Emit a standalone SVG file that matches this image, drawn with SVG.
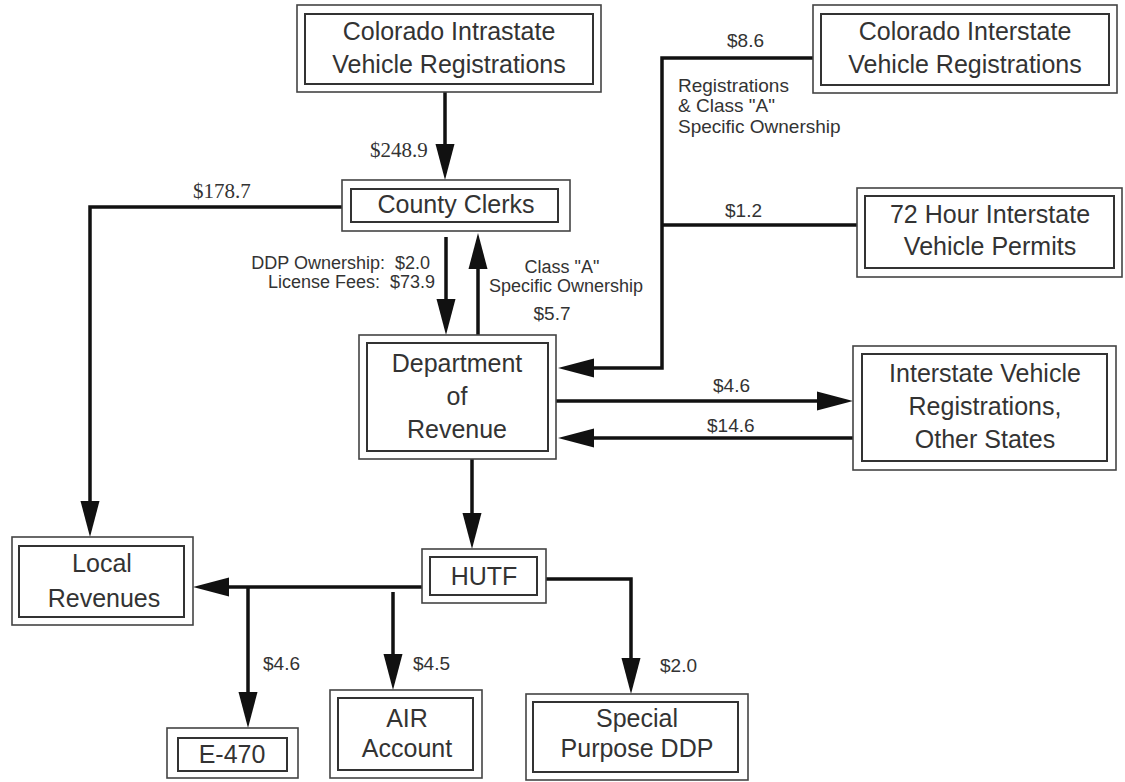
<svg xmlns="http://www.w3.org/2000/svg" width="1125" height="782" viewBox="0 0 1125 782">
<defs>
<style>
.o{fill:#fff;stroke:#444;stroke-width:1.6}
.i{fill:none;stroke:#333;stroke-width:2}
.t{font-family:"Liberation Sans",Arial,sans-serif;font-size:25px;fill:#333;text-anchor:middle}
.l{font-family:"Liberation Sans",Arial,sans-serif;font-size:19px;fill:#333}
.m{font-family:"Liberation Sans",Arial,sans-serif;font-size:18px;fill:#333;white-space:pre}
.s{font-family:"Liberation Serif","Times New Roman",serif;font-size:21px;fill:#333}
.c{fill:none;stroke:#111;stroke-width:3.5;marker-end:url(#ah)}
.n{fill:none;stroke:#111;stroke-width:3.5}
</style>
<marker id="ah" markerUnits="userSpaceOnUse" markerWidth="38" markerHeight="22" refX="26" refY="10" orient="auto" overflow="visible">
<path d="M0,0.5 L36,10 L0,19.5 z" fill="#111"/>
</marker>
</defs>
<rect width="1125" height="782" fill="#fff"/>

<g id="connectors">
<path class="c" d="M445,92 V170"/>
<path class="c" d="M342,207 H90 V527"/>
<path class="c" d="M446,237 V325"/>
<path class="c" d="M478,335 V243"/>
<path class="c" d="M813,58 H662 V368 H568"/>
<path class="n" d="M857,225 H662"/>
<path class="c" d="M556,401 H843"/>
<path class="c" d="M853,438 H568"/>
<path class="c" d="M472,459 V539"/>
<path class="c" d="M422,587 H203"/>
<path class="c" d="M248,587 V718"/>
<path class="c" d="M393,592 V680"/>
<path class="c" d="M546,579 H631 V684"/>
</g>

<g id="labels">
<text class="s" x="370" y="157">$248.9</text>
<text class="s" x="193" y="198">$178.7</text>
<text class="m" x="430" y="269" text-anchor="end" xml:space="preserve">DDP Ownership:  $2.0</text>
<text class="m" x="435" y="288" text-anchor="end" xml:space="preserve">License Fees:  $73.9</text>
<text class="m" x="562" y="273" text-anchor="middle">Class "A"</text>
<text class="m" x="566" y="292" text-anchor="middle">Specific Ownership</text>
<text class="l" x="552" y="320" text-anchor="middle">$5.7</text>
<text class="l" x="727" y="47">$8.6</text>
<text class="l" x="678" y="92">Registrations</text>
<text class="l" x="678" y="112">&amp; Class "A"</text>
<text class="l" x="678" y="133">Specific Ownership</text>
<text class="l" x="725" y="217">$1.2</text>
<text class="l" x="713" y="392">$4.6</text>
<text class="l" x="707" y="432">$14.6</text>
<text class="l" x="263" y="670">$4.6</text>
<text class="l" x="413" y="670">$4.5</text>
<text class="l" x="660" y="672">$2.0</text>
</g>

<g id="intrastate">
<rect class="o" x="297" y="5" width="304" height="87"/>
<rect class="i" x="305" y="14" width="288" height="70"/>
<text class="t" x="449" y="40">Colorado Intrastate</text>
<text class="t" x="449" y="73">Vehicle Registrations</text>
</g>

<g id="interstate">
<rect class="o" x="813" y="5" width="304" height="88"/>
<rect class="i" x="821" y="14" width="288" height="71"/>
<text class="t" x="965" y="40">Colorado Interstate</text>
<text class="t" x="965" y="73">Vehicle Registrations</text>
</g>

<g id="county-clerks">
<rect class="o" x="342" y="180" width="228" height="51"/>
<rect class="i" x="351" y="189" width="207" height="33"/>
<text class="t" x="456" y="213">County Clerks</text>
</g>

<g id="permits72">
<rect class="o" x="857" y="188" width="265" height="89"/>
<rect class="i" x="865" y="196" width="249" height="72"/>
<text class="t" x="990" y="223">72 Hour Interstate</text>
<text class="t" x="990" y="255">Vehicle Permits</text>
</g>

<g id="dept-revenue">
<rect class="o" x="359" y="335" width="197" height="124"/>
<rect class="i" x="367" y="343" width="181" height="108"/>
<text class="t" x="457" y="372">Department</text>
<text class="t" x="457" y="405">of</text>
<text class="t" x="457" y="438">Revenue</text>
</g>

<g id="interstate-other">
<rect class="o" x="853" y="346" width="263" height="124"/>
<rect class="i" x="862" y="354" width="245" height="107"/>
<text class="t" x="985" y="382">Interstate Vehicle</text>
<text class="t" x="985" y="415">Registrations,</text>
<text class="t" x="985" y="448">Other States</text>
</g>

<g id="local-revenues">
<rect class="o" x="12" y="537" width="181" height="88"/>
<rect class="i" x="19" y="546" width="165" height="71"/>
<text class="t" x="102" y="572">Local</text>
<text class="t" x="104" y="607">Revenues</text>
</g>

<g id="hutf">
<rect class="o" x="422" y="549" width="124" height="54"/>
<rect class="i" x="430" y="557" width="107" height="38"/>
<text class="t" x="484" y="585">HUTF</text>
</g>

<g id="e470">
<rect class="o" x="167" y="728" width="131" height="50"/>
<rect class="i" x="178" y="738" width="109" height="33"/>
<text class="t" x="232" y="763">E-470</text>
</g>

<g id="air-account">
<rect class="o" x="330" y="690" width="152" height="88"/>
<rect class="i" x="338" y="698" width="135" height="72"/>
<text class="t" x="407" y="727">AIR</text>
<text class="t" x="407" y="757">Account</text>
</g>

<g id="special-ddp">
<rect class="o" x="526" y="694" width="222" height="86"/>
<rect class="i" x="533" y="702" width="205" height="70"/>
<text class="t" x="637" y="727">Special</text>
<text class="t" x="637" y="757">Purpose DDP</text>
</g>
</svg>
